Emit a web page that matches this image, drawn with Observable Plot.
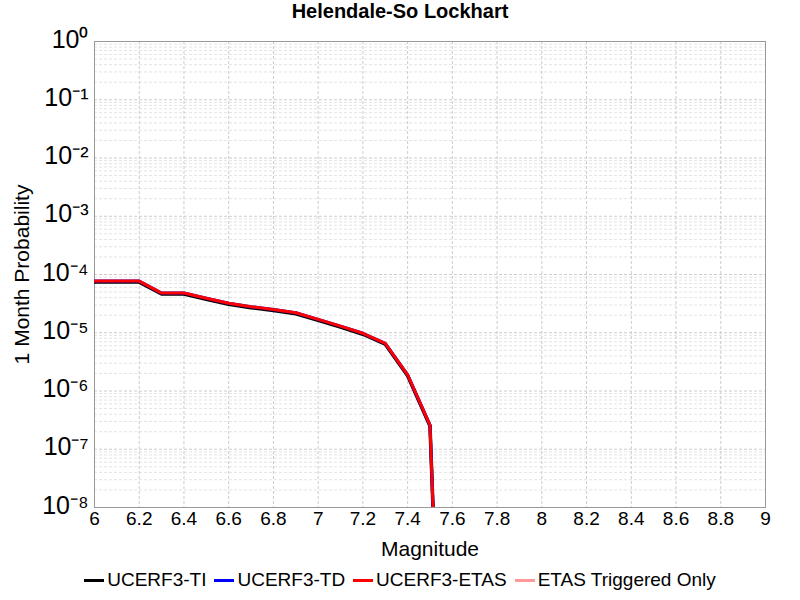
<!DOCTYPE html>
<html>
<head>
<meta charset="utf-8">
<script src="https://cdn.jsdelivr.net/npm/d3@7"></script>
<script src="https://cdn.jsdelivr.net/npm/@observablehq/plot@0.6"></script>
<style>
  body { margin: 0; font-family: "Liberation Sans", Arial, sans-serif; background: #fff; }
  #wrap { position: relative; width: 800px; height: 600px; }
  #title { position: absolute; top: 0; left: 0; width: 800px; text-align: center; font-weight: bold; font-size: 20px; }
  #chart { position: absolute; top: 0; left: 0; }
  #legend { position: absolute; top: 569px; left: 0; width: 800px; display: flex; justify-content: center; gap: 8px; font-size: 19px; }
  .item { display: flex; align-items: center; }
  .sw { width: 20px; height: 3px; margin-right: 3px; }
</style>
</head>
<body>
<div id="wrap">
  <div id="title">Helendale-So Lockhart</div>
  <div id="chart"></div>
  <div id="legend"></div>
</div>
<script>
// magnitudes and 1-month probabilities
const magnitudes = [6.0, 6.1, 6.2, 6.3, 6.4, 6.5, 6.6, 6.7, 6.8, 6.9, 7.0, 7.1, 7.2, 7.3, 7.4, 7.5, 7.6];
const probTI   = [7.7e-5, 7.7e-5, 7.7e-5, 4.8e-5, 4.8e-5, 3.9e-5, 3.2e-5, 2.8e-5, 2.5e-5, 2.2e-5, 1.7e-5, 1.3e-5, 9.8e-6, 6.6e-6, 1.9e-6, 2.6e-7, 1e-17];
const probTD   = probTI.slice();
const probETAS = probTI.slice();

const seriesNames = ["UCERF3-TI", "UCERF3-TD", "UCERF3-ETAS", "ETAS Triggered Only"];
const seriesColors = ["black", "blue", "red", "#f99"];

const xTicks = d3.range(6, 9.01, 0.2).map(d => +d.toFixed(1));
const decades = d3.range(-8, 1);
const minorTicks = [];
decades.slice(0, -1).forEach(e => { for (let k = 2; k < 10; k++) minorTicks.push(k * Math.pow(10, e)); });
const majorTicks = decades.map(e => Math.pow(10, e));

const sup = {"-": "⁻", "0": "⁰", "1": "¹", "2": "²", "3": "³", "4": "⁴", "5": "⁵", "6": "⁶", "7": "⁷", "8": "⁸", "9": "⁹"};
const fmtPow = v => "10" + String(Math.round(Math.log10(v))).split("").map(c => sup[c]).join("");

const rows = (ys, name) => magnitudes.map((m, i) => ({m, p: ys[i], name}));

const chart = Plot.plot({
  width: 800,
  height: 560,
  marginTop: 41,
  marginLeft: 94,
  marginRight: 35,
  marginBottom: 53,
  style: {fontFamily: "Liberation Sans, Arial, sans-serif", fontSize: "19px", color: "black"},
  x: {domain: [6, 9], ticks: xTicks, tickSize: 0, tickPadding: 4, tickFormat: d => String(+d.toFixed(1)), label: "Magnitude", labelAnchor: "center", labelArrow: "none", labelOffset: 48},
  y: {type: "log", domain: [1e-8, 1], ticks: [], label: "1 Month Probability", labelAnchor: "center", labelArrow: "none", labelOffset: 80},
  marks: [
    Plot.ruleY(minorTicks, {stroke: "#ddd", strokeDasharray: "3,2", strokeWidth: 0.8}),
    Plot.ruleY(majorTicks, {stroke: "#ccc", strokeDasharray: "3,2"}),
    Plot.ruleX(xTicks, {stroke: "#ccc", strokeDasharray: "3,2"}),
    Plot.frame({stroke: "#999"}),
    Plot.text(majorTicks, {x: 6, y: d => d, text: fmtPow, textAnchor: "end", dx: -6, dy: -2, fontSize: 25, clip: false}),
    Plot.line(rows(probTI, seriesNames[0]), {x: "m", y: "p", stroke: seriesColors[0], strokeWidth: 3.5, clip: true, dy: 1}),
    Plot.line(rows(probTD, seriesNames[1]), {x: "m", y: "p", stroke: seriesColors[1], strokeWidth: 3, clip: true}),
    Plot.line(rows(probETAS, seriesNames[2]), {x: "m", y: "p", stroke: seriesColors[2], strokeWidth: 3, clip: true})
  ]
});
document.getElementById("chart").append(chart);
d3.select(chart).selectAll("[aria-label='y-axis label'] text").attr("font-size", 21);
d3.select(chart).selectAll("[aria-label='x-axis label'] text").attr("font-size", 21);

const legend = document.getElementById("legend");
seriesNames.forEach((n, i) => {
  const it = document.createElement("div");
  it.className = "item";
  it.innerHTML = `<span class="sw" style="background:${seriesColors[i]}"></span>${n}`;
  legend.append(it);
});
</script>
</body>
</html>
